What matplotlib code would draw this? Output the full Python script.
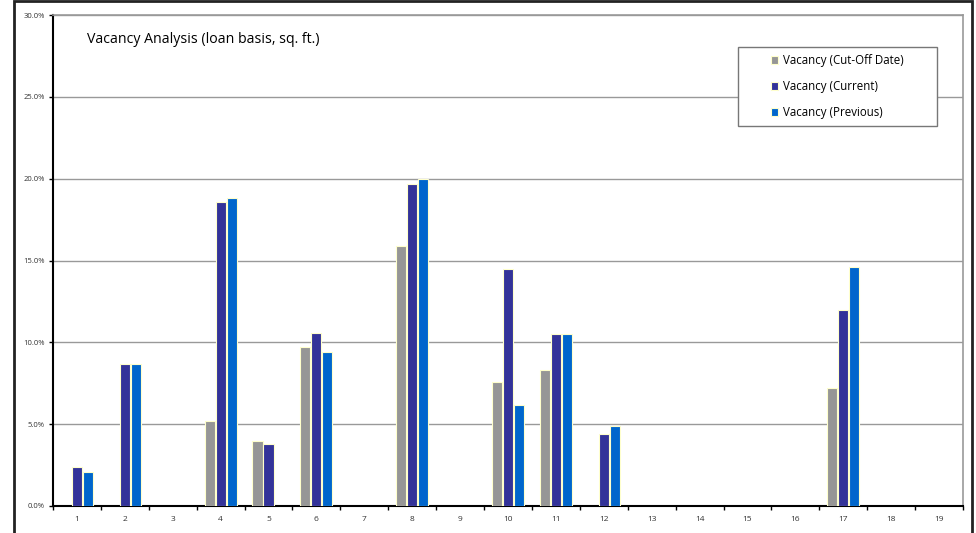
import matplotlib
matplotlib.use('Agg')
import matplotlib.pyplot as plt
import numpy as np
from matplotlib.patches import Rectangle
from matplotlib.ticker import FuncFormatter, MultipleLocator

# vacancy in percent per property (None = no bar)
properties = [str(i) for i in range(1, 20)]
cutoff = [None, None, None, 5.2, 4.0, 9.7, None, 15.9, None, 7.6, 8.3, None, None, None, None, None, 7.2, None, None]
current = [2.4, 8.7, None, 18.6, 3.8, 10.6, None, 19.7, None, 14.5, 10.5, 4.4, None, None, None, None, 12.0, None, None]
previous = [2.1, 8.7, None, 18.8, None, 9.4, None, 20.0, None, 6.2, 10.5, 4.9, None, None, None, None, 14.6, None, None]

series = [
    ('Vacancy (Cut-Off Date)', cutoff, '#969696'),
    ('Vacancy (Current)', current, '#333399'),
    ('Vacancy (Previous)', previous, '#0066CC'),
]

plt.rcParams['font.family'] = ['Open Sans', 'DejaVu Sans']

fig = plt.figure(figsize=(9.76, 5.33), dpi=100)
W, H = 976, 533
ax = fig.add_axes([53 / W, 27 / H, (963 - 53) / W, (506 - 15) / H])

x = np.arange(len(properties))
width = 0.21
offsets = [-0.23, 0, 0.23]
for (label, vals, color), off in zip(series, offsets):
    idx = [i for i, a in enumerate(vals) if a is not None]
    ax.bar([x[i] + off for i in idx], [vals[i] for i in idx], width, color=color,
           edgecolor='#FFFFCC', linewidth=0.8, label=label, zorder=3)

ax.set_xlim(-0.5, len(properties) - 0.5)
ax.set_ylim(0, 30)
ax.yaxis.set_major_locator(MultipleLocator(5))
ax.yaxis.set_major_formatter(FuncFormatter(lambda v, p: f'{v:.1f}%'))
ax.grid(axis='y', color='#999999', linewidth=1.0, zorder=0)

ax.set_xticks(x)
ax.set_xticklabels(properties)
ax.set_xticks(np.arange(-0.5, len(properties)), minor=True)
ax.tick_params(axis='x', which='major', length=0, labelsize=6, labelcolor='#333333', pad=7)
ax.tick_params(axis='x', which='minor', length=3, width=1, color='black', direction='out')
ax.tick_params(axis='y', length=3, width=1, labelsize=5.5, labelcolor='#333333', pad=3)

for side in ['top', 'right']:
    ax.spines[side].set_color('#999999')
    ax.spines[side].set_linewidth(1.2)
for side in ['left', 'bottom']:
    ax.spines[side].set_color('black')
    ax.spines[side].set_linewidth(1.5)

ax.text(0.037, 0.95, 'Vacancy Analysis (loan basis, sq. ft.)', transform=ax.transAxes,
        fontsize=10.2, va='center', ha='left', color='black')

# legend box drawn separately (wide side padding like the original)
ax.legend(loc='center', bbox_to_anchor=(((738 + 937) / 2 - 53) / 910, (506 - (47 + 126) / 2) / 491),
          frameon=False, fontsize=8.3, handlelength=0.6, handleheight=0.6,
          handletextpad=0.4, labelspacing=1.12, borderaxespad=0)
ax.add_patch(Rectangle(((738 - 53) / 910, (506 - 126) / 491), 199 / 910, 79 / 491,
                       transform=ax.transAxes, fill=True, facecolor='white',
                       edgecolor='#777777', linewidth=1.0, zorder=4))

fig.patches.append(Rectangle((14 / W, -0.05), (972 - 14) / W, 1.05 - 1.5 / H,
                             transform=fig.transFigure, fill=False,
                             edgecolor='#222222', linewidth=2))

fig.savefig('out.png', dpi=100)
